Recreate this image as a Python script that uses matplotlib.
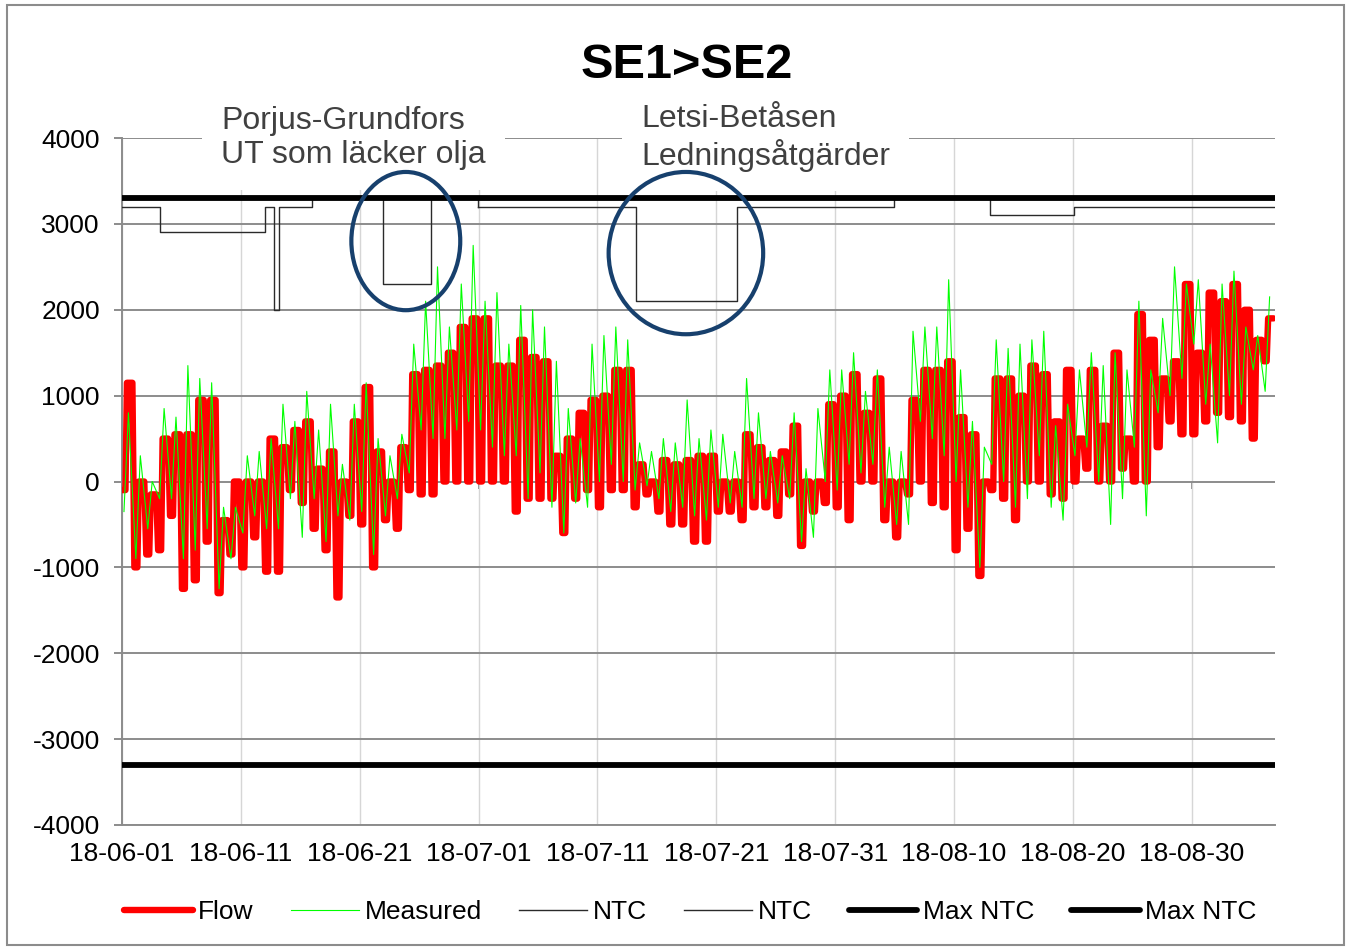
import numpy as np
import matplotlib
matplotlib.use("Agg")
import matplotlib.pyplot as plt
import matplotlib.dates as mdates
from matplotlib.patches import Ellipse, Rectangle

plt.rcParams["font.family"] = ["Liberation Sans", "DejaVu Sans"]
plt.rcParams["axes.unicode_minus"] = False

START = "2018-06-01"
END = "2018-09-06"

# daily peak / trough (MW); index 0 = 2018-06-01
flow_hi = [1150, 0, -150, 500, 550, 550, 950, 950, -450, 0,
           0, 0, 500, 400, 600, 700, 150, 350, 0, 700,
           1100, 350, 0, 400, 1250, 1300, 1350, 1500, 1800, 1900,
           1900, 1350, 1350, 1650, 1450, 1400, 300, 500, 800, 950,
           1000, 1300, 1300, 200, 0, 250, 200, 250, 300, 300,
           0, 0, 550, 400, 250, 350, 650, 0, 0, 900,
           1000, 1250, 800, 1200, 0, 0, 950, 1300, 1300, 1400,
           750, 550, 0, 1200, 1200, 1000, 1350, 1250, 700, 1300,
           500, 1300, 650, 1500, 500, 1950, 1650, 1200, 1400, 2300,
           1500, 2200, 2100, 2300, 2000, 1650, 1900]
flow_lo = [-100, -1000, -850, -800, -400, -1250, -1150, -700, -1300, -850,
           -1000, -650, -1050, -1050, -100, -250, -550, -800, -1350, -400,
           -500, -1000, -450, -550, -100, -150, -150, 0, 0, 0,
           0, 0, 0, -350, -200, -200, -200, -600, -200, -100,
           -300, -100, -100, -300, -150, -350, -500, -500, -700, -700,
           -350, -350, -450, -300, -300, -400, -150, -750, -350, -250,
           -300, -450, 0, 0, -450, -650, -150, 0, -250, -300,
           -800, -550, -1100, -100, -200, -450, 0, 0, -150, -200,
           0, 150, 0, 0, 150, 0, 0, 400, 700, 550,
           550, 700, 800, 750, 700, 500, 1400]
meas_hi = [800, 300, 0, 850, 750, 1350, 1200, 1150, -300, -300,
           300, 350, 500, 900, 700, 1050, 600, 900, 200, 900,
           1150, 500, 300, 550, 1600, 2100, 2500, 1800, 2300, 2750,
           2100, 2200, 1600, 2050, 2000, 1800, 1400, 850, 500, 1600,
           1700, 1800, 1650, 450, 350, 500, 450, 950, 500, 600,
           550, 350, 1200, 800, 350, 300, 800, 150, 850, 1300,
           1300, 1500, 1050, 1300, 400, 350, 1750, 1800, 1800, 2350,
           1300, 700, 400, 1650, 1550, 1600, 1650, 1750, 650, 900,
           1300, 1500, 1350, 1500, 1300, 2100, 1300, 1900, 2500, 2300,
           2350, 1600, 2300, 2450, 1800, 1700, 2150]
meas_lo = [-350, -900, -550, -200, -200, -900, -800, -550, -1250, -900,
           -600, -400, -550, -550, -200, -650, -200, -700, -400, -450,
           -350, -850, -400, -200, 100, 600, 500, 500, 600, 700,
           600, 400, 300, 300, -200, 100, -300, -600, -250, -300,
           0, 200, 0, -100, -50, -200, -350, -300, -400, -450,
           -300, -250, -300, -200, -200, -250, -200, -700, -650, 0,
           -100, 200, 100, 200, -300, -500, -500, 700, 500, 300,
           0, -300, -1000, 200, 0, -300, -200, 300, -300, -450,
           300, 400, 0, -500, -200, 400, -400, 800, 1000, 1200,
           1600, 900, 450, 1000, 900, 1300, 1050]

# NTC step series (time the value starts, MW)
ntc1_times = ["2018-06-01T00:00", "2018-06-04T05:00", "2018-06-13T01:00",
              "2018-06-13T19:00", "2018-06-14T05:00", "2018-06-16T23:00",
              "2018-06-22T22:00", "2018-06-26T23:00", "2018-06-30T22:00"]
ntc1_vals = [3200, 2900, 3200, 2000, 3200, 3300, 2300, 3300, 3200]
ntc2_times = ["2018-06-30T22:00", "2018-07-14T05:00", "2018-07-22T18:00",
              "2018-08-04T23:00", "2018-08-13T01:00", "2018-08-20T02:00",
              "2018-09-06T00:00"]
ntc2_vals = [3200, 2100, 3200, 3300, 3100, 3200, 3200]
max_ntc_pos = 3300
max_ntc_neg = -3300

tick_dates = ["2018-06-01", "2018-06-11", "2018-06-21", "2018-07-01",
              "2018-07-11", "2018-07-21", "2018-07-31", "2018-08-10",
              "2018-08-20", "2018-08-30"]
y_ticks = [-4000, -3000, -2000, -1000, 0, 1000, 2000, 3000, 4000]

title = "SE1>SE2"
note1 = "Porjus-Grundfors\nUT som läcker olja"
note2 = "Letsi-Betåsen\nLedningsåtgärder"


def daily_series(t0, lo, hi, offsets):
    # offsets: minutes into each day and which reading (lo/hi) sits there
    n = len(lo)
    days = np.arange(n) * 1440
    t, v = [], []
    for d in range(n):
        for minute, which in offsets:
            t.append(t0 + days[d] + minute)
            v.append(lo[d] if which == "lo" else hi[d])
    return np.array(t, dtype="datetime64[m]"), np.array(v, dtype=float)


t0 = np.datetime64(START + "T00:00", "m")
flow_t, flow_v = daily_series(t0, flow_lo, flow_hi,
                              [(60, "lo"), (420, "lo"), (600, "hi"), (1260, "hi")])
meas_t, meas_v = daily_series(t0, meas_lo, meas_hi, [(240, "lo"), (780, "hi")])

fig = plt.figure(figsize=(13.51, 9.5), dpi=100)
ax = fig.add_axes([0.0903, 0.1316, 0.8535, 0.7231])

ax.plot(flow_t, flow_v, color="#ff0000", lw=4.6, solid_joinstyle="round",
        solid_capstyle="round", label="Flow", zorder=3)
ax.plot(meas_t, meas_v, color="#00ff00", lw=0.8, label="Measured", zorder=4)
ax.plot(np.array(ntc1_times, dtype="datetime64[m]"), ntc1_vals,
        drawstyle="steps-post", color="#2a2a2a", lw=1.0, label="NTC", zorder=5)
ax.plot(np.array(ntc2_times, dtype="datetime64[m]"), ntc2_vals,
        drawstyle="steps-post", color="#2a2a2a", lw=1.0, label="NTC", zorder=5)
ax.axhline(max_ntc_pos, color="black", lw=4.2, solid_capstyle="round",
           label="Max NTC", zorder=6)
ax.axhline(max_ntc_neg, color="black", lw=4.2, solid_capstyle="round",
           label="Max NTC", zorder=6)

ax.set_xlim(np.datetime64(START), np.datetime64(END))
ax.set_ylim(-4000, 4000)
ax.set_yticks(y_ticks)
ax.set_xticks(np.array(tick_dates, dtype="datetime64[D]"))
ax.xaxis.set_major_formatter(mdates.DateFormatter("%y-%m-%d"))

ax.set_axisbelow(True)
ax.yaxis.grid(True, color="#8c8c8c", lw=1.4)
ax.xaxis.grid(True, color="#d6d6d6", lw=1.0)
for s in ("top", "right"):
    ax.spines[s].set_visible(False)
for s in ("left", "bottom"):
    ax.spines[s].set_color("#8c8c8c")
    ax.spines[s].set_linewidth(1.4)
ax.tick_params(axis="y", length=6, width=1.4, color="#8c8c8c", pad=10,
               labelsize=19)
ax.tick_params(axis="x", length=0, pad=12, labelsize=19)

# excel draws the category axis through zero, with small tick marks
zero_ax = ax.secondary_xaxis(0.5)
zero_ax.set_alignment("bottom")
zero_ax.set_xticks(np.array(tick_dates, dtype="datetime64[D]"))
zero_ax.tick_params(length=5, width=1.4, color="#8c8c8c", labelbottom=False,
                    labeltop=False)
for s in zero_ax.spines.values():
    s.set_visible(False)

# circled outages
c1 = mdates.date2num(np.datetime64("2018-06-24T21:00"))
c2 = mdates.date2num(np.datetime64("2018-07-18T10:30"))
ax.add_patch(Ellipse((c1, 2800), 9.16, 1610, fill=False, edgecolor="#17406d",
                     lw=3.0, zorder=9, clip_on=False))
ax.add_patch(Ellipse((c2, 2660), 13.0, 1890, fill=False, edgecolor="#17406d",
                     lw=3.0, zorder=9, clip_on=False))

box = dict(boxstyle="square,pad=0.6", facecolor="white", edgecolor="none")
ax.text(0.0859, 1.0, note1, transform=ax.transAxes, ha="left", va="center",
        fontsize=23, color="#404040", bbox=box, zorder=8, clip_on=False)
ax.text(0.4501, 1.0, note2, transform=ax.transAxes, ha="left", va="center",
        fontsize=23, color="#404040", bbox=box, zorder=8, clip_on=False)

fig.text(0.508, 0.931, title, ha="center", va="center", fontsize=35,
         fontweight="bold")

ax.legend(loc="center", bbox_to_anchor=(0.511, 0.04),
          bbox_transform=fig.transFigure, ncol=6, frameon=False, fontsize=19,
          handlelength=2.6, handletextpad=0.2, columnspacing=1.4)

fig.patches.append(Rectangle((0.005, 0.005), 0.99, 0.99, transform=fig.transFigure,
                             fill=False, edgecolor="#8c8c8c", lw=1.5))

fig.savefig("out.png", dpi=100)
